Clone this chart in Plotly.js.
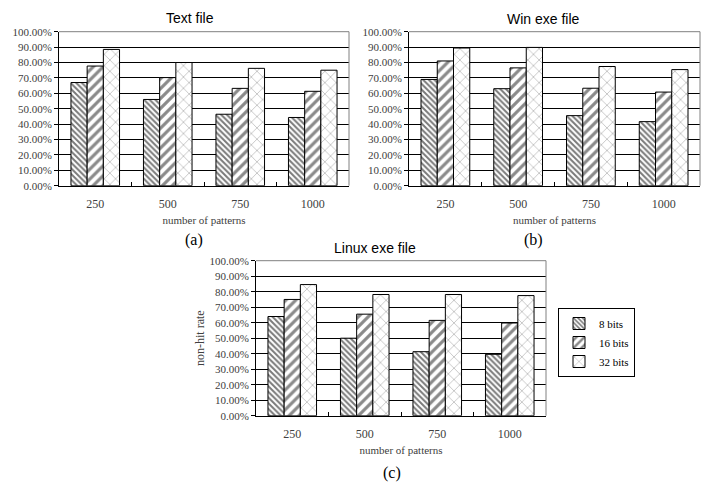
<!DOCTYPE html>
<html>
<head>
<meta charset="utf-8">
<script src="https://cdn.plot.ly/plotly-3.0.1.min.js"></script>
<style>html,body{margin:0;padding:0;background:#fff;}#chart{width:708px;height:483px;}</style>
</head>
<body>
<div id="chart"></div>
<script>
// ---- data ----
const categories = ['250', '500', '750', '1000'];
const seriesNames = ['8 bits', '16 bits', '32 bits'];

const textFile8  = [67.0, 56.0, 46.4, 44.3];
const textFile16 = [77.7, 70.2, 63.2, 61.3];
const textFile32 = [88.5, 80.0, 76.2, 75.0];

const winExe8  = [69.0, 63.0, 45.5, 41.6];
const winExe16 = [81.0, 76.5, 63.3, 60.8];
const winExe32 = [89.4, 89.8, 77.4, 75.4];

const linuxExe8  = [64.0, 50.0, 41.3, 39.6];
const linuxExe16 = [75.0, 65.5, 61.5, 59.8];
const linuxExe32 = [84.6, 78.2, 78.2, 77.5];

const panelTitles = ['Text file', 'Win exe file', 'Linux exe file'];
const panelLabels = ['(a)', '(b)', '(c)'];
const xTitle = 'number of patterns';
const yTitle = 'non-hit rate';

// ---- styles ----
const patterns = [
  {shape: '\\', fgcolor: '#7a7a7a', bgcolor: '#ffffff', size: 4, solidity: 0.5},
  {shape: '/',  fgcolor: '#8a8a8a', bgcolor: '#ffffff', size: 7, solidity: 0.45},
  {shape: 'x',  fgcolor: '#a8a8a8', bgcolor: '#ffffff', size: 8, solidity: 0.15}
];

const panels = [
  {vals: [textFile8, textFile16, textFile32], xa: 'x',  ya: 'y'},
  {vals: [winExe8, winExe16, winExe32],       xa: 'x2', ya: 'y2'},
  {vals: [linuxExe8, linuxExe16, linuxExe32], xa: 'x3', ya: 'y3'}
];

const traces = [];
panels.forEach((p, pi) => {
  p.vals.forEach((v, si) => {
    traces.push({
      type: 'bar',
      x: categories,
      y: v,
      name: seriesNames[si],
      legendgroup: seriesNames[si],
      showlegend: pi === 2,
      xaxis: p.xa,
      yaxis: p.ya,
      marker: {color: '#ffffff', pattern: patterns[si], line: {color: '#000000', width: 1}},
      hoverinfo: 'skip'
    });
  });
});

const W = 708, H = 483;
const SERIF = 'Liberation Serif, Times New Roman, serif';
const yTickFont = {family: SERIF, size: 11, color: '#404040'};
const xTickFont = {family: SERIF, size: 12, color: '#404040'};
const titleFontSerif = {family: SERIF, size: 11, color: '#404040'};

function xAxis(domain, anchor) {
  return {
    domain: domain, anchor: anchor, type: 'category',
    showline: true, linecolor: '#000', linewidth: 1,
    ticks: 'inside', tickson: 'boundaries', ticklen: 4, tickcolor: '#000',
    ticklabelstandoff: 7,
    showgrid: false, zeroline: false, tickfont: xTickFont,
    title: {text: xTitle, font: titleFontSerif, standoff: 6},
    automargin: false, fixedrange: true
  };
}
function yAxis(domain, anchor, title) {
  const a = {
    domain: domain, anchor: anchor, range: [0, 100], dtick: 10, tick0: 0,
    tickformat: '.2f', ticksuffix: '%',
    showline: true, linecolor: '#000', linewidth: 1,
    ticks: 'outside', ticklen: 4, tickcolor: '#000',
    showgrid: true, gridcolor: '#000', gridwidth: 1, zeroline: false,
    tickfont: yTickFont, automargin: false, fixedrange: true
  };
  if (title) a.title = {text: title, font: {family: SERIF, size: 12, color: '#404040'}, standoff: 2};
  return a;
}

const yTop = [1 - 185.7 / H, 1 - 31.7 / H];
const yBot = [1 - 415.7 / H, 1 - 260.7 / H];

const shapes = [];
[['x', 'y'], ['x2', 'y2'], ['x3', 'y3']].forEach(([xa, ya]) => {
  shapes.push({type: 'line', xref: xa + ' domain', yref: ya + ' domain', x0: 0, x1: 1, y0: 1, y1: 1, line: {color: '#808080', width: 1}});
  shapes.push({type: 'line', xref: xa + ' domain', yref: ya + ' domain', x0: 1, x1: 1, y0: 0, y1: 1, line: {color: '#808080', width: 1}});
});

const annPos = [
  {t: panelTitles[0], x: 190, y: 18},
  {t: panelTitles[1], x: 543, y: 19},
  {t: panelTitles[2], x: 375, y: 248}
];
const labPos = [
  {t: panelLabels[0], x: 194, y: 240},
  {t: panelLabels[1], x: 533, y: 240},
  {t: panelLabels[2], x: 392, y: 473}
];
const annotations = [];
annPos.forEach(a => annotations.push({
  text: a.t, xref: 'paper', yref: 'paper', x: a.x / W, y: 1 - a.y / H,
  xanchor: 'center', yanchor: 'middle', showarrow: false,
  font: {family: 'Liberation Sans, Arial, sans-serif', size: 14, color: '#000'}
}));
labPos.forEach(a => annotations.push({
  text: a.t, xref: 'paper', yref: 'paper', x: a.x / W, y: 1 - a.y / H,
  xanchor: 'center', yanchor: 'middle', showarrow: false,
  font: {family: SERIF, size: 16, color: '#000'}
}));

const layout = {
  width: W, height: H,
  margin: {l: 0, r: 0, t: 0, b: 0},
  paper_bgcolor: '#fff', plot_bgcolor: '#fff',
  barmode: 'group', bargap: 0.33, bargroupgap: 0,
  showlegend: true,
  legend: {
    x: 558 / W, y: 1 - 308 / H, xanchor: 'left', yanchor: 'top',
    bordercolor: '#000', borderwidth: 1, bgcolor: '#fff',
    font: {family: SERIF, size: 11, color: '#000'},
    itemwidth: 30, tracegroupgap: 0
  },
  xaxis: xAxis([59 / W, 349 / W], 'y'),
  yaxis: yAxis(yTop, 'x'),
  xaxis2: xAxis([409 / W, 700 / W], 'y2'),
  yaxis2: yAxis(yTop, 'x2'),
  xaxis3: xAxis([256 / W, 546 / W], 'y3'),
  yaxis3: yAxis(yBot, 'x3', yTitle),
  shapes: shapes,
  annotations: annotations
};

Plotly.newPlot('chart', traces, layout, {staticPlot: true, displayModeBar: false});
</script>
</body>
</html>
